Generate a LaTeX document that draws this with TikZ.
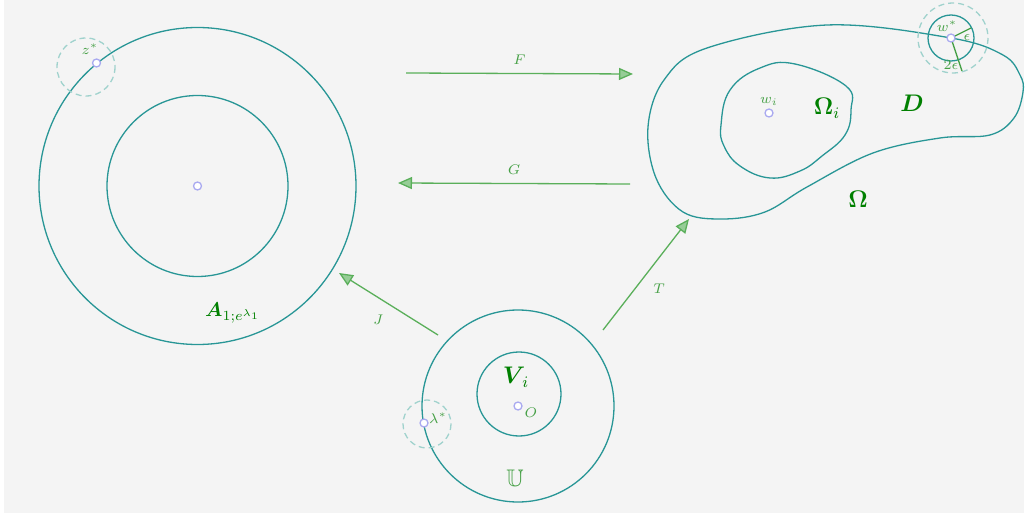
\documentclass[tikz,border=0pt]{standalone}
\usepackage{amsmath,amssymb}
\usepackage{tikz}
\usepackage{xcolor}
\usetikzlibrary{arrows.meta}

\definecolor{bgcol}{RGB}{244,244,244}
\definecolor{curvecol}{RGB}{40,150,150}
\definecolor{dashcol}{RGB}{160,210,205}
\definecolor{ptcol}{RGB}{170,170,240}
\definecolor{labcol}{RGB}{0,128,0}
\definecolor{smallcol}{RGB}{70,160,70}
\definecolor{arrcol}{RGB}{90,175,90}
\definecolor{headcol}{RGB}{150,205,150}

\tikzset{
  bdry/.style={draw=curvecol, line width=0.65pt},
  nbhd/.style={draw=dashcol, line width=0.65pt, dash pattern=on 3pt off 2pt},
  pt/.style={circle, draw=ptcol, fill=white, line width=0.65pt, inner sep=0pt, minimum size=4pt},
  maparrow/.style={draw=arrcol, line width=0.65pt,
    -{Triangle[length=7pt, width=6pt, fill=headcol]}},
  biglab/.style={text=labcol, font=\large},
  smalllab/.style={text=smallcol, font=\scriptsize},
  tinylab/.style={text=smallcol, font=\scriptsize}
}

\begin{document}
\begin{tikzpicture}[x=0.5pt, y=-0.5pt]
  \useasboundingbox (0,0) rectangle (1028,518);
  \fill[bgcol] (4,0) rectangle (1024,513);

  % Annulus A (left)
  \draw[bdry] (197.5,186) circle [radius=158.5];
  \draw[bdry] (197.5,186) circle [radius=90.5];
  \node[pt] (ac) at (197.5,186) {};
  \draw[nbhd] (86,67) circle [radius=29];
  \node[pt] (zs) at (96.5,63) {};
  \node[tinylab] (zslab) at (90,49) {$z^*$};
  \node[text=labcol, font=\normalsize] (alab) at (233,313) {$\boldsymbol{A}_{1;e^{\lambda_1}}$};

  % Unit disk U (bottom)
  \draw[bdry] (518,406) circle [radius=96];
  \draw[bdry] (519,394) circle [radius=42];
  \node[pt] (o) at (518,406) {};
  \node[smalllab] (olab) at (531,413) {$O$};
  \node[biglab] (vlab) at (516,377) {$\boldsymbol{V}_{\!i}$};
  \node[text=smallcol, font=\large] (ulab) at (515,478) {$\mathbb{U}$};
  \draw[nbhd] (427,424) circle [radius=24];
  \node[pt] (ls) at (424,423) {};
  \node[tinylab] (lslab) at (438,418) {$\lambda^*$};

  % Domain D with Omega (right)
  \draw[bdry] plot[smooth cycle, tension=0.6] coordinates {
    (648,127) (664,80) (707,48) (827,25) (951,38) (1003,55)
    (1020,75) (1023,92) (1014,118) (990,135) (940,138)
    (873,153) (807,187) (765,212) (722,219) (683,212) (656,178)};
  \draw[bdry] plot[smooth cycle, tension=0.7] coordinates {
    (721,125) (730,90) (760,68) (795,64) (846,86) (851,110)
    (845,135) (822,156) (800,171) (770,178) (740,166) (724,146)};
  \node[pt] (wi) at (769,113) {};
  \node[tinylab] (wilab) at (769,101) {$w_i$};
  \node[biglab] (omilab) at (827,108) {$\boldsymbol{\Omega}_i$};
  \node[biglab] (dlab) at (912,103) {$\boldsymbol{D}$};
  \node[biglab] (omlab) at (858,199) {$\boldsymbol{\Omega}$};

  % Neighbourhoods of w*
  \draw[nbhd] (953,38) circle [radius=35];
  \draw[bdry] (951,38) circle [radius=23];
  \coordinate (eps) at (971,28);
  \coordinate (teps) at (962,71);
  \draw[draw=smallcol, line width=0.65pt] (951,38) -- (eps);
  \draw[draw=smallcol, line width=0.65pt] (951,38) -- (teps);
  \node[pt] (ws) at (951,38) {};
  \node[tinylab] (wslab) at (947,26) {$w^*$};
  \node[tinylab] (epslab) at (967,37) {$\epsilon$};
  \node[tinylab] (tepslab) at (951,65) {$2\epsilon$};

  % Maps
  \coordinate (fs) at (406,73);
  \coordinate (fe) at (633,74);
  \coordinate (gs) at (630,184);
  \coordinate (ge) at (398,183);
  \coordinate (js) at (438,335);
  \coordinate (je) at (339,273);
  \coordinate (ts) at (603,330);
  \coordinate (te) at (689,219);
  \draw[maparrow] (fs) -- node[smalllab, above=1pt] (flab) {$F$} (fe);
  \draw[maparrow] (gs) -- node[smalllab, above=1pt] (glab) {$G$} (ge);
  \draw[maparrow] (js) -- node[smalllab, below left=2pt, xshift=3pt] (jlab) {$J$} (je);
  \draw[maparrow] (ts) -- node[smalllab, below right=1pt, xshift=-1pt] (tlab) {$T$} (te);
\end{tikzpicture}
\end{document}
